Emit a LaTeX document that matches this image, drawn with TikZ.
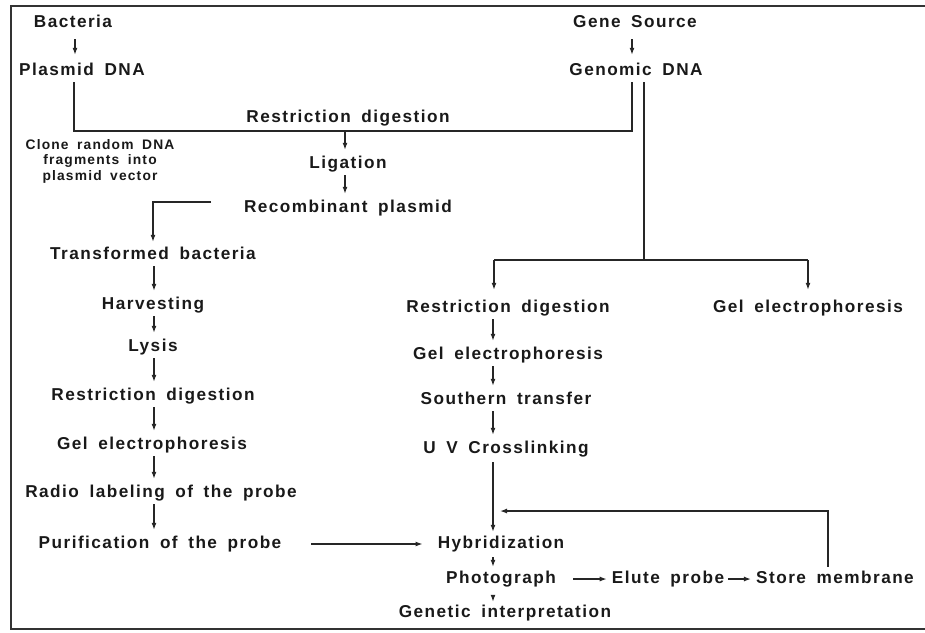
\documentclass[tikz,border=0pt]{standalone}
\usepackage{fontspec}
\setmainfont{Liberation Sans}
\newfontfamily\diagfont{Liberation Sans}[LetterSpace=8.5,WordSpace=1.7]
\usetikzlibrary{arrows.meta,calc}
\begin{document}
\begin{tikzpicture}[x=1pt,y=-1pt,
  lbl/.style={inner sep=0pt,anchor=base,font=\diagfont\bfseries\fontsize{17.2}{19}\selectfont,text height=12pt,text depth=4pt,text=black!90},
  smalltxt/.style={inner sep=0pt,anchor=center,align=center,font=\diagfont\bfseries\fontsize{13.8}{15.5}\selectfont,text=black!90},
  ln/.style={line width=1.3pt,draw=black!85},
  arr/.style={ln,-{Latex[length=7pt,width=5pt]}},
  varr/.style={arr,shorten <=3pt,shorten >=6pt},
  frame/.style={line width=1.5pt,draw=black!80}]
\useasboundingbox (0,0) rectangle (925,632);
\draw[frame] (925,6) -- (11,6) -- (11,629) -- (925,629);
% nodes
\node[lbl] (bact) at (73,27) {Bacteria};
\node[lbl] (plas) at (82,75) {Plasmid DNA};
\node[lbl] (gsrc) at (635,27) {Gene Source};
\node[lbl] (gdna) at (636,75) {Genomic DNA};
\node[lbl] (rdT) at (348,122) {Restriction digestion};
\node[lbl] (lig) at (348,168) {Ligation};
\node[lbl] (rec) at (348,212) {Recombinant plasmid};
\node[smalltxt] (clone) at (100,161) {Clone random DNA\\fragments into\\plasmid vector};
\node[lbl] (trans) at (153,259) {Transformed bacteria};
\node[lbl] (harv) at (153,309) {Harvesting};
\node[lbl] (lysis) at (153,351) {Lysis};
\node[lbl] (rdL) at (153,400) {Restriction digestion};
\node[lbl] (gelL) at (152,449) {Gel electrophoresis};
\node[lbl] (radio) at (161,497) {Radio labeling of the probe};
\node[lbl] (pur) at (160,548) {Purification of the probe};
\node[lbl] (rdM) at (508,312) {Restriction digestion};
\node[lbl] (gelR) at (808,312) {Gel electrophoresis};
\node[lbl] (gelM) at (508,359) {Gel electrophoresis};
\node[lbl] (sthn) at (506,404) {Southern transfer};
\node[lbl] (uv) at (506,453) {U V Crosslinking};
\node[lbl] (hyb) at (501,548) {Hybridization};
\node[lbl] (photo) at (501,583) {Photograph};
\node[lbl] (elute) at (668,583) {Elute probe};
\node[lbl] (store) at (835,583) {Store membrane};
\node[lbl] (genint) at (505,617) {Genetic interpretation};
% coordinates
\coordinate (colL) at (154,0);
\coordinate (colT) at (345,0);
\coordinate (colM) at (493,0);
\coordinate (hL) at (74,131);
\coordinate (hR) at (632,131);
\coordinate (jc) at (644,260);
\coordinate (jl) at (494,260);
\coordinate (jr) at (808,260);
\coordinate (fb) at (500,511);
\coordinate (rb) at (211,202);
\coordinate (lb) at (153,202);
% connectors
\draw[arr,shorten <=8pt,shorten >=8pt] ([xshift=2pt]bact.south) -- ([xshift=2pt]bact.south |- plas.north);
\draw[arr,shorten <=8pt,shorten >=8pt] (gsrc.south -| hR) -- (gdna.north -| hR);
\draw[ln,shorten <=3pt,shorten >=3pt] (plas.south -| hL) -- (hL) -- (hR) -- (gdna.south -| hR);
\draw[arr,shorten >=6pt] (colT |- hL) -- (colT |- lig.north);
\draw[varr] (colT |- lig.south) -- (colT |- rec.north);
\draw[arr,shorten >=5pt] (rb) -- (lb) -- (lb |- trans.north);
\draw[varr] (colL |- trans.south) -- (colL |- harv.north);
\draw[varr] (colL |- harv.south) -- (colL |- lysis.north);
\draw[varr] (colL |- lysis.south) -- (colL |- rdL.north);
\draw[varr] (colL |- rdL.south) -- (colL |- gelL.north);
\draw[varr] (colL |- gelL.south) -- (colL |- radio.north);
\draw[varr] (colL |- radio.south) -- (colL |- pur.north);
\draw[arr,shorten <=30pt,shorten >=15pt] (pur.east) -- (hyb.west);
\draw[ln,shorten <=3pt] (gdna.south -| jc) -- (jc);
\draw[ln] (jl) -- (jr);
\draw[arr,shorten >=10pt] (jl) -- (jl |- rdM.north);
\draw[arr,shorten >=10pt] (jr) -- (jr |- gelR.north);
\draw[varr] (colM |- rdM.south) -- (colM |- gelM.north);
\draw[varr] (colM |- gelM.south) -- (colM |- sthn.north);
\draw[varr] (colM |- sthn.south) -- (colM |- uv.north);
\draw[arr,shorten <=5pt,shorten >=4pt] (colM |- uv.south) -- (colM |- hyb.north);
\draw[arr,shorten <=5pt,shorten >=4pt] (colM |- hyb.south) -- (colM |- photo.north);
\draw[arr,shorten <=17pt,shorten >=5pt] (photo.east) -- (elute.west);
\draw[arr,shorten <=4pt,shorten >=5pt] (elute.east) -- (store.west);
\draw[arr,shorten <=4pt] ([xshift=-7pt]store.north) |- (fb);
\draw[arr,shorten <=8pt,shorten >=3pt] (colM |- photo.south) -- (colM |- genint.north);
\end{tikzpicture}
\end{document}
